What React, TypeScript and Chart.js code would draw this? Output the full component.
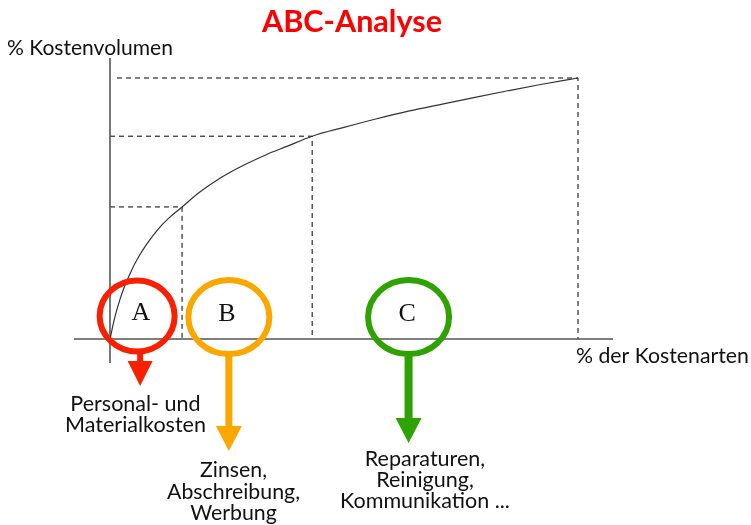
import React, { useEffect, useRef } from 'react';
import { Chart, registerables } from 'chart.js';

Chart.register(...registerables);

// ---- data ----
const curveX = [0, 1, 2, 3, 4.5, 6, 8, 10.3, 12.5, 15.4, 19.2, 23.5, 27.8, 33.5, 37.8, 43.2, 50, 57, 64, 71, 78, 85, 92, 100];
const curveY = [0, 8.1, 14.4, 19.6, 25.9, 31.1, 36.7, 42.1, 46.2, 50.6, 56.3, 61.6, 65.9, 70.7, 73.8, 77.7, 81.1, 84.4, 87.4, 90.0, 92.6, 95.1, 97.5, 100];

const classNames = ['A', 'B', 'C'];
const boundX = [15.4, 43.2, 100];
const boundY = [50.6, 77.7, 100];
const guideStartX = [0, 0, 1.5];
const circleX = [5.8, 25.4, 63.8];
const circleY = [8.8, 8.4, 8.4];
const letterX = [6.6, 25.0, 63.5];
const classColors = ['#f82000', '#fba700', '#2ea200'];
const classTexts = [
  ['Personal- und', 'Materialkosten'],
  ['Zinsen,', 'Abschreibung,', 'Werbung'],
  ['Reparaturen,', 'Reinigung,', 'Kommunikation ...'],
];
const titleText = 'ABC-Analyse';
const yAxisTitle = '% Kostenvolumen';
const xAxisTitle = '% der Kostenarten';

const xMin = -7.69;
const xMax = 107.48;
const yMin = -9.2;
const yMax = 107.66;

// ---- styles (pixel) ----
const circleR = [[37.5, 35.5], [40.5, 37], [40.5, 37]];
const arrowStyle = [
  { dx: 3, stemW: 6, headTop: 361, tip: 386, headW: 25 },
  { dx: 0, stemW: 7, headTop: 426, tip: 451, headW: 26 },
  { dx: 0, stemW: 8, headTop: 418, tip: 443, headW: 26 },
];
const textStyle = [
  { cx: 135.5, y0: 411, lh: 21, w: 141 },
  { cx: 233.5, y0: 477, lh: 21.5, w: 133 },
  { cx: 425, y0: 466, lh: 21, w: 170 },
];
const SANS = 'Lato, "Open Sans", "Noto Sans", sans-serif';

function fitSize(ctx: CanvasRenderingContext2D, lines: string[], target: number, weight: string) {
  ctx.font = `${weight} 100px ${SANS}`;
  let m = 0;
  for (const l of lines) m = Math.max(m, ctx.measureText(l).width);
  return (100 * target) / m;
}

const drawPlugin = {
  id: 'abcDecor',
  afterDatasetsDraw(chart: any) {
    const ctx: CanvasRenderingContext2D = chart.ctx;
    const xs = chart.scales.x;
    const ys = chart.scales.y;
    ctx.save();
    classNames.forEach((name, i) => {
      const cx = xs.getPixelForValue(circleX[i]);
      const cy = ys.getPixelForValue(circleY[i]);
      const [rx, ry] = circleR[i];
      ctx.strokeStyle = classColors[i];
      ctx.lineWidth = 6;
      ctx.beginPath();
      ctx.ellipse(cx, cy, rx, ry, 0, 0, Math.PI * 2);
      ctx.stroke();

      ctx.fillStyle = '#111';
      ctx.font = '26px "Liberation Serif", "DejaVu Serif", serif';
      ctx.textAlign = 'center';
      ctx.textBaseline = 'alphabetic';
      ctx.fillText(name, xs.getPixelForValue(letterX[i]), cy + 3.5);

      const a = arrowStyle[i];
      const ax = cx + a.dx;
      ctx.fillStyle = classColors[i];
      ctx.fillRect(ax - a.stemW / 2, cy + ry, a.stemW, a.headTop - (cy + ry) + 1);
      ctx.beginPath();
      ctx.moveTo(ax - a.headW / 2, a.headTop);
      ctx.lineTo(ax + a.headW / 2, a.headTop);
      ctx.lineTo(ax, a.tip);
      ctx.closePath();
      ctx.fill();

      const t = textStyle[i];
      const size = fitSize(ctx, classTexts[i], t.w, 'normal');
      ctx.font = `normal ${size}px ${SANS}`;
      ctx.fillStyle = '#111';
      ctx.textAlign = 'center';
      classTexts[i].forEach((line, k) => ctx.fillText(line, t.cx, t.y0 + k * t.lh));
    });

    const ts = fitSize(ctx, [titleText], 180, 'bold');
    ctx.font = `bold ${ts}px ${SANS}`;
    ctx.fillStyle = '#ff0000';
    ctx.textAlign = 'center';
    ctx.fillText(titleText, 352, 32);

    ctx.fillStyle = '#111';
    const ys1 = fitSize(ctx, [yAxisTitle], 166, 'normal');
    ctx.font = `normal ${ys1}px ${SANS}`;
    ctx.textAlign = 'left';
    ctx.fillText(yAxisTitle, 7, 55);
    const xs1 = fitSize(ctx, [xAxisTitle], 173, 'normal');
    ctx.font = `normal ${xs1}px ${SANS}`;
    ctx.fillText(xAxisTitle, 576, 363);
    ctx.restore();
  },
};

export default function App() {
  const ref = useRef<HTMLCanvasElement | null>(null);
  useEffect(() => {
    if (!ref.current) return;
    const guides = classNames.map((_, i) => ({
      data: [
        { x: guideStartX[i], y: boundY[i] },
        { x: boundX[i], y: boundY[i] },
        { x: boundX[i], y: 0 },
      ],
      borderColor: '#000',
      borderWidth: 1,
      borderDash: [5, 4],
      pointRadius: 0,
      showLine: true,
      tension: 0,
    }));
    const chart = new Chart(ref.current, {
      type: 'scatter',
      data: {
        datasets: [
          {
            data: curveX.map((x, i) => ({ x, y: curveY[i] })),
            borderColor: '#333',
            borderWidth: 1.2,
            pointRadius: 0,
            showLine: true,
            cubicInterpolationMode: 'monotone',
          } as any,
          {
            data: [{ x: xMin, y: 0 }, { x: xMax, y: 0 }],
            borderColor: '#555',
            borderWidth: 1.6,
            pointRadius: 0,
            showLine: true,
          },
          {
            data: [{ x: 0, y: yMin }, { x: 0, y: yMax }],
            borderColor: '#555',
            borderWidth: 1.6,
            pointRadius: 0,
            showLine: true,
          },
          ...guides,
        ],
      },
      options: {
        responsive: false,
        animation: false,
        events: [],
        layout: { padding: { left: 74, right: 138, top: 58, bottom: 162 } },
        scales: {
          x: { type: 'linear', min: xMin, max: xMax, display: false },
          y: { type: 'linear', min: yMin, max: yMax, display: false },
        },
        plugins: { legend: { display: false }, tooltip: { enabled: false }, title: { display: false } },
      },
      plugins: [drawPlugin],
    });
    return () => chart.destroy();
  }, []);
  return (
    <div style={{ position: 'fixed', left: 0, top: 0, width: 751, height: 525, background: '#fff' }}>
      <canvas ref={ref} width={751} height={525} style={{ display: 'block' }} />
    </div>
  );
}
